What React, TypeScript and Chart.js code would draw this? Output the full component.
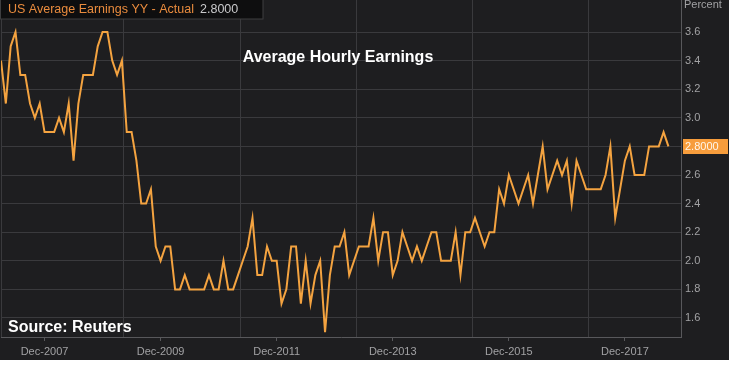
import React, { useEffect, useRef } from 'react';
import { Chart, registerables } from 'chart.js';

Chart.register(...registerables);

// ---- data (monthly, first point = Mar-2007, last = Sep-2018) ----
const seriesName = 'US Average Earnings YY - Actual';
const firstMonth = 'Mar-2007';
const values: number[] = [
  3.4, 3.1, 3.5, 3.6, 3.3, 3.3, 3.1, 3.0, 3.1, 2.9, // Mar07 - Dec07
  2.9, 2.9, 3.0, 2.9, 3.1, 2.7, 3.1, 3.3, 3.3, 3.3, 3.5, 3.6, // 2008
  3.6, 3.4, 3.3, 3.4, 2.9, 2.9, 2.7, 2.4, 2.4, 2.5, 2.1, 2.0, // 2009
  2.1, 2.1, 1.8, 1.8, 1.9, 1.8, 1.8, 1.8, 1.8, 1.9, 1.8, 1.8, // 2010
  2.0, 1.8, 1.8, 1.9, 2.0, 2.1, 2.3, 1.9, 1.9, 2.1, 2.0, 2.0, // 2011
  1.7, 1.8, 2.1, 2.1, 1.7, 2.0, 1.7, 1.9, 2.0, 1.5, 1.9, 2.1, // 2012
  2.1, 2.2, 1.9, 2.0, 2.1, 2.1, 2.1, 2.3, 2.0, 2.2, 2.2, 1.9, // 2013
  2.0, 2.2, 2.1, 2.0, 2.1, 2.0, 2.1, 2.2, 2.2, 2.0, 2.0, 2.0, // 2014
  2.2, 1.9, 2.2, 2.2, 2.3, 2.2, 2.1, 2.2, 2.2, 2.5, 2.4, 2.6, // 2015
  2.5, 2.4, 2.5, 2.6, 2.4, 2.6, 2.8, 2.5, 2.6, 2.7, 2.6, 2.7, // 2016
  2.4, 2.7, 2.6, 2.5, 2.5, 2.5, 2.5, 2.6, 2.8, 2.3, 2.5, 2.7, // 2017
  2.8, 2.6, 2.6, 2.6, 2.8, 2.8, 2.8, 2.9, 2.8,                // 2018 Jan-Sep
];
const xTickMonths = [9, 33, 57, 81, 105, 129];
const xTickLabels = ['Dec-2007', 'Dec-2009', 'Dec-2011', 'Dec-2013', 'Dec-2015', 'Dec-2017'];
const verticalGridMonths = [25.3, 49.4, 73.4, 97.4, 121.4];
const yTickValues = [1.6, 1.8, 2.0, 2.2, 2.4, 2.6, 2.8, 3.0, 3.2, 3.4, 3.6];
const titleText = 'Average Hourly Earnings';
const sourceText = 'Source: Reuters';
const unitText = 'Percent';

// ---- styles ----
const BG = '#1e1e20';
const GRID = '#3a3a3d';
const AXIS = '#58585b';
const LINE = '#f4a340';
const TEXT_GRAY = '#a2a2a4';
const FONT = '"Liberation Sans", Arial, sans-serif';

const lastValue = values[values.length - 1];

const decorPlugin = {
  id: 'decor',
  beforeDraw(chart: any) {
    const { ctx, width, height } = chart;
    ctx.save();
    ctx.fillStyle = BG;
    ctx.fillRect(0, 0, width, height);
    ctx.restore();
  },
  beforeDatasetsDraw(chart: any) {
    const { ctx, chartArea: a, scales } = chart;
    const x = scales.x;
    ctx.save();
    ctx.strokeStyle = GRID;
    ctx.lineWidth = 1;
    ctx.beginPath();
    ctx.moveTo(a.left + 0.5, a.top);
    ctx.lineTo(a.left + 0.5, a.bottom);
    verticalGridMonths.forEach((m) => {
      const px = Math.round(x.getPixelForValue(m)) + 0.5;
      ctx.moveTo(px, a.top);
      ctx.lineTo(px, a.bottom);
    });
    ctx.stroke();
    ctx.restore();
  },
  afterDraw(chart: any) {
    const { ctx, chartArea: a, scales, width } = chart;
    const y = scales.y;
    ctx.save();

    // legend box (top-left)
    ctx.fillStyle = '#0e0e0f';
    ctx.fillRect(0, 0, 263, 19);
    ctx.strokeStyle = '#3e3e40';
    ctx.lineWidth = 1;
    ctx.strokeRect(0.5, -1, 262.5, 20);
    ctx.font = `12.5px ${FONT}`;
    ctx.textBaseline = 'middle';
    ctx.textAlign = 'left';
    ctx.fillStyle = '#ea8c3e';
    ctx.fillText(seriesName, 8, 10);
    ctx.fillStyle = '#c9c9cb';
    ctx.fillText(lastValue.toFixed(4), 200, 10);

    // title
    ctx.font = `bold 16px ${FONT}`;
    ctx.fillStyle = '#ffffff';
    ctx.textAlign = 'center';
    ctx.textBaseline = 'alphabetic';
    ctx.fillText(titleText, 338, 62);

    // source
    ctx.textAlign = 'left';
    ctx.fillText(sourceText, 8, 332);

    // unit label
    ctx.font = `11px ${FONT}`;
    ctx.fillStyle = TEXT_GRAY;
    ctx.textBaseline = 'middle';
    ctx.fillText(unitText, a.right + 3, 5);

    // last value marker
    const py = y.getPixelForValue(lastValue);
    ctx.fillStyle = '#f79d3c';
    ctx.fillRect(a.right + 2, Math.round(py) - 7, width - a.right - 3, 15);
    ctx.fillStyle = '#fff6ea';
    ctx.fillText(lastValue.toFixed(4), a.right + 4, Math.round(py) + 0.5);

    ctx.restore();
  },
};

export default function App() {
  const canvasRef = useRef<HTMLCanvasElement | null>(null);

  useEffect(() => {
    document.body.style.margin = '0';
    document.body.style.background = '#ffffff';
    const canvas = canvasRef.current;
    if (!canvas) return;
    const chart = new Chart(canvas, {
      type: 'line',
      data: {
        datasets: [
          {
            label: seriesName,
            data: values.map((v, i) => ({ x: i, y: v })),
            borderColor: LINE,
            borderWidth: 2,
            pointRadius: 0,
            tension: 0,
            fill: false,
          },
        ],
      },
      options: {
        animation: false,
        responsive: false,
        devicePixelRatio: 1,
        events: [],
        layout: { padding: { left: 1, top: 0, right: 0, bottom: 0 } },
        plugins: {
          legend: { display: false },
          tooltip: { enabled: false },
          title: { display: false },
        },
        scales: {
          x: {
            type: 'linear',
            min: 0,
            max: 140.6,
            afterBuildTicks: (s: any) => {
              s.ticks = xTickMonths.map((v) => ({ value: v }));
            },
            afterFit: (s: any) => {
              s.height = 23;
              s.paddingLeft = 0;
              s.paddingRight = 0;
            },
            ticks: {
              autoSkip: false,
              maxRotation: 0,
              padding: 4,
              color: TEXT_GRAY,
              font: { family: FONT, size: 11 },
              callback: (v: any) => {
                const k = xTickMonths.indexOf(Number(v));
                return k >= 0 ? xTickLabels[k] : '';
              },
            },
            grid: {
              drawOnChartArea: false,
              drawTicks: true,
              tickLength: 4,
              color: AXIS,
            },
            border: { display: true, color: AXIS },
          },
          y: {
            type: 'linear',
            position: 'right',
            min: 1.467,
            max: 3.824,
            afterBuildTicks: (s: any) => {
              s.ticks = yTickValues.map((v) => ({ value: v }));
            },
            afterFit: (s: any) => {
              s.width = 48;
              s.paddingTop = 0;
              s.paddingBottom = 0;
            },
            ticks: {
              padding: 4,
              color: TEXT_GRAY,
              font: { family: FONT, size: 11 },
              callback: (v: any) => {
                const n = Number(v);
                if (Math.abs(n - lastValue) < 1e-6) return '';
                return n.toFixed(1);
              },
            },
            grid: {
              drawTicks: false,
              color: GRID,
            },
            border: { display: true, color: AXIS },
          },
        },
      },
      plugins: [decorPlugin],
    } as any);
    return () => chart.destroy();
  }, []);

  return (
    <div style={{ width: 729, height: 360 }}>
      <canvas ref={canvasRef} width={729} height={360} style={{ display: 'block' }} />
    </div>
  );
}
